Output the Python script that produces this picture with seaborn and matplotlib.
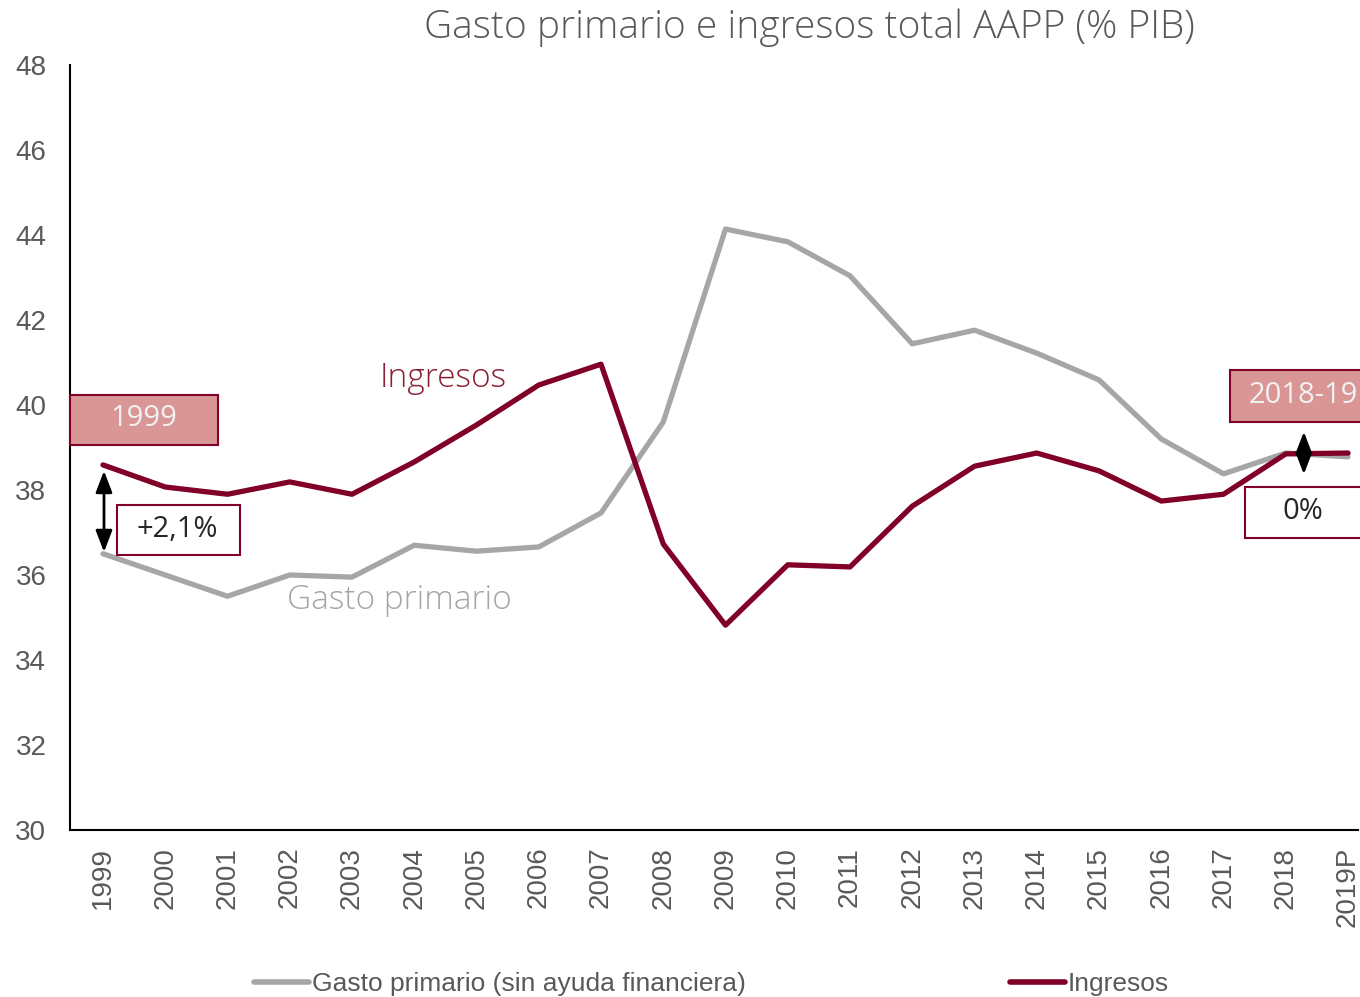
import pandas as pd
import matplotlib.pyplot as plt
import seaborn as sns
from matplotlib.patches import Rectangle
from matplotlib.lines import Line2D

years = ['1999', '2000', '2001', '2002', '2003', '2004', '2005', '2006', '2007', '2008',
         '2009', '2010', '2011', '2012', '2013', '2014', '2015', '2016', '2017', '2018', '2019P']
gasto = [36.5, 36.0, 35.5, 36.0, 35.95, 36.7, 36.56, 36.66, 37.46, 39.6,
         44.14, 43.84, 43.04, 41.44, 41.76, 41.22, 40.59, 39.2, 38.38, 38.87, 38.78]
ingresos = [38.59, 38.07, 37.9, 38.19, 37.9, 38.66, 39.53, 40.47, 40.96, 36.73,
            34.82, 36.24, 36.19, 37.62, 38.56, 38.87, 38.45, 37.74, 37.9, 38.85, 38.87]
series_names = ['Gasto primario (sin ayuda financiera)', 'Ingresos']

GRAY = '#A6A6A6'
MAROON = '#800028'
PINK = '#D99694'
TXT = '#595959'

sns.set_style('white')
plt.rcParams['font.family'] = ['Liberation Sans', 'DejaVu Sans']

df = pd.DataFrame({
    'year': years * 2,
    'x': list(range(len(years))) * 2,
    'value': gasto + ingresos,
    'serie': [series_names[0]] * len(years) + [series_names[1]] * len(years),
})

fig = plt.figure(figsize=(13.6, 9.97), dpi=100)
ax = fig.add_axes([70 / 1360, 1 - 830 / 997, 1288 / 1360, (830 - 65) / 997])

sns.lineplot(data=df, x='x', y='value', hue='serie',
             palette=[GRAY, MAROON], linewidth=3.8, ax=ax, legend=False,
             solid_capstyle='round')

ax.set_xlim(-0.53, 20.16)
ax.set_ylim(30, 48)
ax.set_yticks(range(30, 49, 2))
ax.set_xticks(range(len(years)))
ax.set_xticklabels(years, rotation=90)
ax.set_xlabel('')
ax.set_ylabel('')
ax.tick_params(axis='both', length=0, labelsize=20, labelcolor=TXT)
ax.tick_params(axis='y', pad=17)
ax.tick_params(axis='x', pad=12)
for s in ['top', 'right']:
    ax.spines[s].set_visible(False)
for s in ['left', 'bottom']:
    ax.spines[s].set_color('black')
    ax.spines[s].set_linewidth(1.5)

light = ['Open Sans', 'DejaVu Sans']

fig.text(0.595, 1 - 28 / 997, 'Gasto primario e ingresos total AAPP (% PIB)',
         ha='center', va='center', fontsize=28, color=TXT, family=light, fontweight='light')

# labels on series
ax.text(5.46, 40.64, 'Ingresos', color='#8B2035', fontsize=24, ha='center', va='center',
        family=light, fontweight='light')
ax.text(4.755, 35.41, 'Gasto primario', color=GRAY, fontsize=24, ha='center', va='center',
        family=light, fontweight='light')

# boxes
ax.add_patch(Rectangle((-0.53, 39.06), 2.377, 1.176, facecolor=PINK, edgecolor=MAROON,
                       lw=1.5, clip_on=False, zorder=3))
ax.text(0.659, 39.68, '1999', color='#F2F2F2', fontsize=21, ha='center', va='center',
        family=light, zorder=4)
ax.add_patch(Rectangle((0.225, 36.47), 1.975, 1.18, facecolor='white', edgecolor=MAROON,
                       lw=1.5, clip_on=False, zorder=3))
ax.text(1.2, 37.08, '+2,1%', color='#262626', fontsize=21, ha='center', va='center',
        family=light, zorder=4)
ax.add_patch(Rectangle((18.1, 39.6), 2.3, 1.22, facecolor=PINK, edgecolor=MAROON,
                       lw=1.5, clip_on=False, zorder=3))
ax.text(19.28, 40.22, '2018-19', color='#F2F2F2', fontsize=21, ha='center', va='center',
        family=light, zorder=4)
ax.add_patch(Rectangle((18.35, 36.87), 2.1, 1.2, facecolor='white', edgecolor=MAROON,
                       lw=1.5, clip_on=False, zorder=3))
ax.text(19.28, 37.5, '0%', color='#262626', fontsize=21, ha='center', va='center',
        family=light, zorder=4)

arrow = dict(arrowstyle='<|-|>,head_length=0.65,head_width=0.25', color='black', lw=2,
             mutation_scale=20, shrinkA=0, shrinkB=0)
ax.annotate('', xy=(0.016, 38.45), xytext=(0.016, 36.54), arrowprops=arrow, zorder=5)
ax.annotate('', xy=(19.29, 39.37), xytext=(19.29, 38.37), arrowprops=arrow, zorder=5)

handles = [Line2D([], [], color=GRAY, lw=4, solid_capstyle='round'),
           Line2D([], [], color=MAROON, lw=4, solid_capstyle='round')]
fig.legend(handles, series_names, loc='center', bbox_to_anchor=(0.523, 0.013), ncol=2,
           frameon=False, handlelength=2.1, handletextpad=0.1, columnspacing=10,
           prop={'family': ['Liberation Sans Narrow', 'Liberation Sans'], 'size': 19},
           labelcolor=TXT)

fig.savefig('out.png', dpi=100)
